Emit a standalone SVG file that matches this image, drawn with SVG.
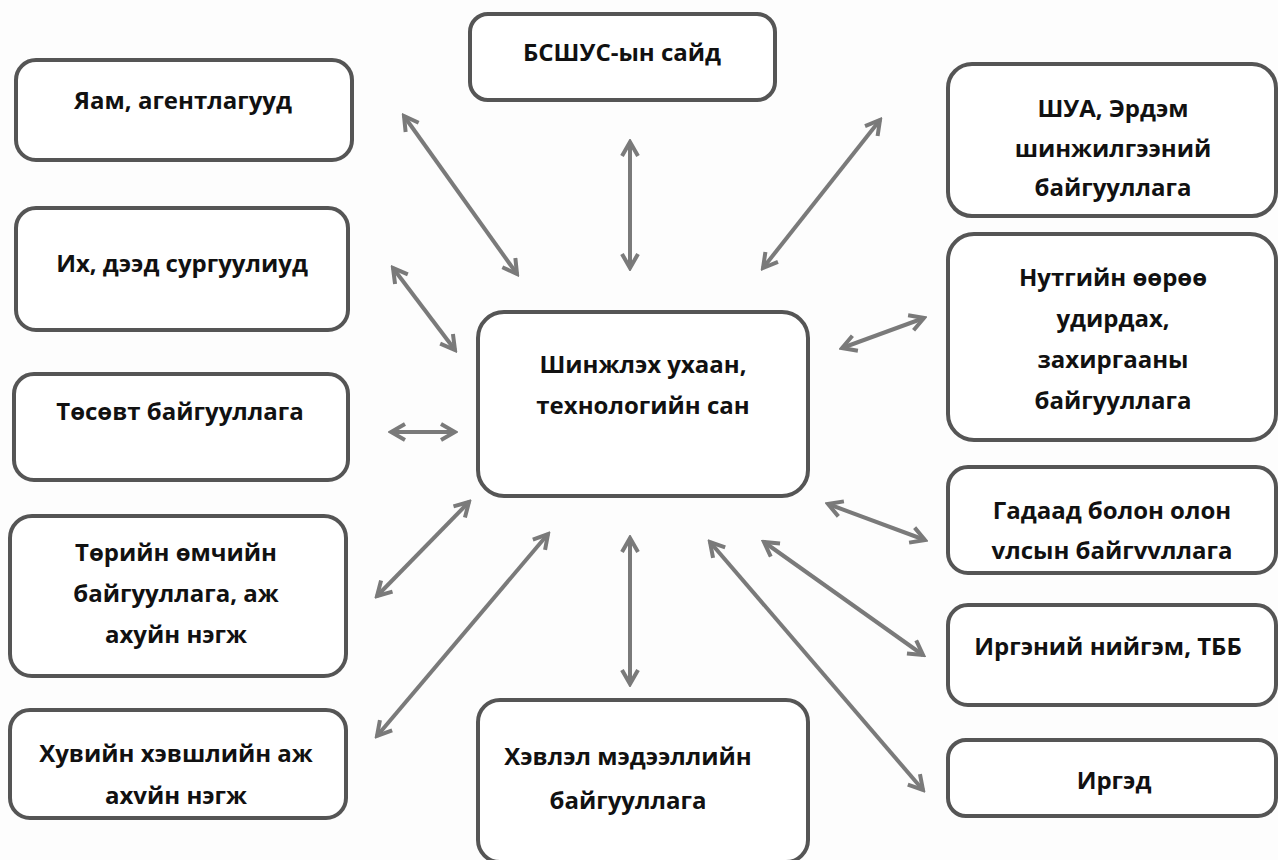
<svg xmlns="http://www.w3.org/2000/svg" width="1278" height="860" viewBox="0 0 1278 860">
<defs>
<marker id="ah" viewBox="0 0 20 20" refX="17" refY="10" markerWidth="20" markerHeight="20" markerUnits="userSpaceOnUse" orient="auto-start-reverse">
<path d="M3,2 L17,10 L3,18" fill="none" stroke="#7a7a7a" stroke-width="4" stroke-linejoin="miter"/>
</marker>
</defs>
<style>
.b{fill:#fff;stroke:#555;stroke-width:4}
.t{font-family:"Open Sans","Noto Sans","DejaVu Sans",sans-serif;font-weight:bold;font-size:24px;fill:#111;text-anchor:middle}
.c{stroke:#7a7a7a;stroke-width:4;fill:none;marker-start:url(#ah);marker-end:url(#ah)}
</style>
<rect width="1278" height="860" fill="#fdfdfd"/>
<g id="connectors">
<line class="c" x1="404" y1="116" x2="517" y2="274"/>
<line class="c" x1="630" y1="142" x2="630" y2="268"/>
<line class="c" x1="880" y1="120" x2="763" y2="268"/>
<line class="c" x1="393" y1="268" x2="455" y2="350"/>
<line class="c" x1="924" y1="318" x2="842" y2="348"/>
<line class="c" x1="391" y1="432" x2="455" y2="432"/>
<line class="c" x1="469" y1="502" x2="377" y2="596"/>
<line class="c" x1="548" y1="534" x2="377" y2="736"/>
<line class="c" x1="630" y1="538" x2="630" y2="684"/>
<line class="c" x1="828" y1="504" x2="925" y2="540"/>
<line class="c" x1="764" y1="542" x2="923" y2="655"/>
<line class="c" x1="710" y1="542" x2="923" y2="790"/>
</g>
<g id="n-yam"><rect class="b" x="16" y="60" width="336" height="100" rx="20"/><text class="t" x="183" y="109">Яам, агентлагууд</text></g>
<g id="n-ikh"><rect class="b" x="16" y="208" width="332" height="122" rx="20"/><text class="t" x="182" y="272">Их, дээд сургуулиуд</text></g>
<g id="n-tosovt"><rect class="b" x="14" y="374" width="334" height="106" rx="20"/><text class="t" x="180" y="420">Төсөвт байгууллага</text></g>
<g id="n-toriin"><rect class="b" x="10" y="516" width="336" height="160" rx="22"/><text class="t" x="176" y="561">Төрийн өмчийн</text><text class="t" x="176" y="602">байгууллага, аж</text><text class="t" x="176" y="643">ахуйн нэгж</text></g>
<g id="n-khuviin"><rect class="b" x="10" y="710" width="336" height="108" rx="20"/><text class="t" x="176" y="762">Хувийн хэвшлийн аж</text><text class="t" x="176" y="804">ахvйн нэгж</text></g>
<g id="n-bsshus"><rect class="b" x="470" y="14" width="305" height="86" rx="18"/><text class="t" x="622" y="61">БСШУС-ын сайд</text></g>
<g id="n-center"><rect class="b" x="478" y="312" width="330" height="184" rx="26"/><text class="t" x="643" y="373">Шинжлэх ухаан,</text><text class="t" x="643" y="414">технологийн сан</text></g>
<g id="n-khevlel"><rect class="b" x="478" y="700" width="330" height="162" rx="22"/><text class="t" x="628" y="765">Хэвлэл мэдээллийн</text><text class="t" x="628" y="809">байгууллага</text></g>
<g id="n-shua"><rect class="b" x="948" y="64" width="328" height="152" rx="24"/><text class="t" x="1113" y="117">ШУА, Эрдэм</text><text class="t" x="1113" y="157">шинжилгээний</text><text class="t" x="1113" y="196">байгууллага</text></g>
<g id="n-nutag"><rect class="b" x="948" y="234" width="328" height="206" rx="26"/><text class="t" x="1113" y="286">Нутгийн өөрөө</text><text class="t" x="1113" y="327">удирдах,</text><text class="t" x="1113" y="368">захиргааны</text><text class="t" x="1113" y="409">байгууллага</text></g>
<g id="n-gadaad"><rect class="b" x="948" y="467" width="328" height="106" rx="20"/><text class="t" x="1112" y="519">Гадаад болон олон</text><text class="t" x="1112" y="559">vлсын байгvvллага</text></g>
<g id="n-irgenii"><rect class="b" x="948" y="605" width="328" height="100" rx="20"/><text class="t" x="1108" y="655">Иргэний нийгэм, ТББ</text></g>
<g id="n-irged"><rect class="b" x="948" y="740" width="328" height="76" rx="18"/><text class="t" x="1114" y="789">Иргэд</text></g>
</svg>
